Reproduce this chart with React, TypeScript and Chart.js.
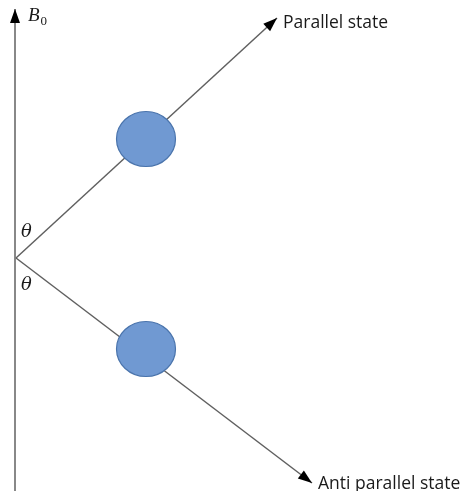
import React, { useEffect, useRef } from "react";
import { Chart, registerables } from "chart.js";
Chart.register(...registerables);

// Diagram coordinates (data units on a 468 x 491 plane, y downward)
const axisLine = [{ x: 15, y: 491 }, { x: 15, y: 9 }];
const parallelRay = [{ x: 16, y: 258 }, { x: 277, y: 18 }];
const antiRay = [{ x: 16, y: 258 }, { x: 312, y: 483 }];
const spins = [{ x: 146, y: 139 }, { x: 146, y: 349 }];
const stateLabels = ["Parallel state", "Anti parallel state"];
const stateLabelPos = [{ x: 283, y: 22 }, { x: 318, y: 483 }];
const thetaLabels = ["θ", "θ"];
const thetaPos = [{ x: 21, y: 237 }, { x: 21, y: 290 }];
const fieldLabel = "B";
const fieldSub = "0";
const fieldPos = { x: 28, y: 21 };

function makeEllipse(): HTMLCanvasElement {
  const c = document.createElement("canvas");
  c.width = 62;
  c.height = 58;
  const ctx = c.getContext("2d")!;
  ctx.beginPath();
  ctx.ellipse(31, 29, 29.5, 27.5, 0, 0, Math.PI * 2);
  ctx.fillStyle = "#7099D2";
  ctx.fill();
  ctx.lineWidth = 1.2;
  ctx.strokeStyle = "#4A74AC";
  ctx.stroke();
  return c;
}

const arrowPlugin = {
  id: "arrows",
  afterDatasetsDraw(chart: any) {
    const { ctx, scales } = chart;
    const xs = scales.x, ys = scales.y;
    chart.data.datasets.forEach((ds: any) => {
      if (!ds.arrow) return;
      const d = ds.data;
      const a = d[d.length - 2], b = d[d.length - 1];
      const x1 = xs.getPixelForValue(a.x), y1 = ys.getPixelForValue(a.y);
      const x2 = xs.getPixelForValue(b.x), y2 = ys.getPixelForValue(b.y);
      const ang = Math.atan2(y2 - y1, x2 - x1);
      const len = 14, hw = 5;
      ctx.save();
      ctx.fillStyle = "#000";
      ctx.beginPath();
      ctx.moveTo(x2, y2);
      ctx.lineTo(x2 - len * Math.cos(ang) + hw * Math.sin(ang), y2 - len * Math.sin(ang) - hw * Math.cos(ang));
      ctx.lineTo(x2 - len * Math.cos(ang) - hw * Math.sin(ang), y2 - len * Math.sin(ang) + hw * Math.cos(ang));
      ctx.closePath();
      ctx.fill();
      ctx.restore();
    });
  },
};

const textPlugin = {
  id: "texts",
  afterDraw(chart: any) {
    const { ctx, scales } = chart;
    const xs = scales.x, ys = scales.y;
    ctx.save();
    ctx.fillStyle = "#1a1a1a";
    ctx.textAlign = "left";
    ctx.textBaseline = "alphabetic";
    ctx.font = "17.5px 'Open Sans', sans-serif";
    stateLabels.forEach((t, i) => {
      ctx.fillText(t, xs.getPixelForValue(stateLabelPos[i].x), ys.getPixelForValue(stateLabelPos[i].y) + 6);
    });
    ctx.font = "italic 18px 'DejaVu Serif', serif";
    thetaLabels.forEach((t, i) => {
      ctx.fillText(t, xs.getPixelForValue(thetaPos[i].x), ys.getPixelForValue(thetaPos[i].y));
    });
    ctx.font = "italic 19px 'Liberation Serif', serif";
    const bx = xs.getPixelForValue(fieldPos.x), by = ys.getPixelForValue(fieldPos.y);
    ctx.fillText(fieldLabel, bx, by);
    const w = ctx.measureText(fieldLabel).width;
    ctx.font = "13px 'Liberation Serif', serif";
    ctx.fillText(fieldSub, bx + w + 1, by + 4);
    ctx.restore();
  },
};

export default function App() {
  const ref = useRef<HTMLCanvasElement>(null);
  useEffect(() => {
    const ellipse = makeEllipse();
    const lineDs = (data: any[], arrow: boolean) => ({
      type: "line",
      data,
      borderColor: "#606060",
      borderWidth: 1.5,
      pointRadius: 0,
      showLine: true,
      fill: false,
      clip: false,
      arrow,
      order: 2,
    });
    const chart = new Chart(ref.current!, {
      type: "scatter",
      data: {
        datasets: [
          {
            type: "scatter",
            data: spins,
            pointStyle: ellipse,
            pointRadius: 29,
            clip: false,
            order: 1,
          } as any,
          lineDs(axisLine, true),
          lineDs(parallelRay, true),
          lineDs(antiRay, true),
        ] as any,
      },
      options: {
        animation: false,
        responsive: false,
        maintainAspectRatio: false,
        layout: { padding: 0, autoPadding: false },
        plugins: { legend: { display: false }, tooltip: { enabled: false } },
        events: [],
        scales: {
          x: { type: "linear", min: 0, max: 468, display: false },
          y: { type: "linear", min: 0, max: 491, reverse: true, display: false },
        },
      },
      plugins: [arrowPlugin, textPlugin],
    });
    return () => chart.destroy();
  }, []);
  return (
    <div style={{ position: "absolute", left: 0, top: 0, width: 468, height: 491, background: "#fff" }}>
      <canvas ref={ref} width={468} height={491} style={{ width: 468, height: 491, display: "block" }} />
    </div>
  );
}
